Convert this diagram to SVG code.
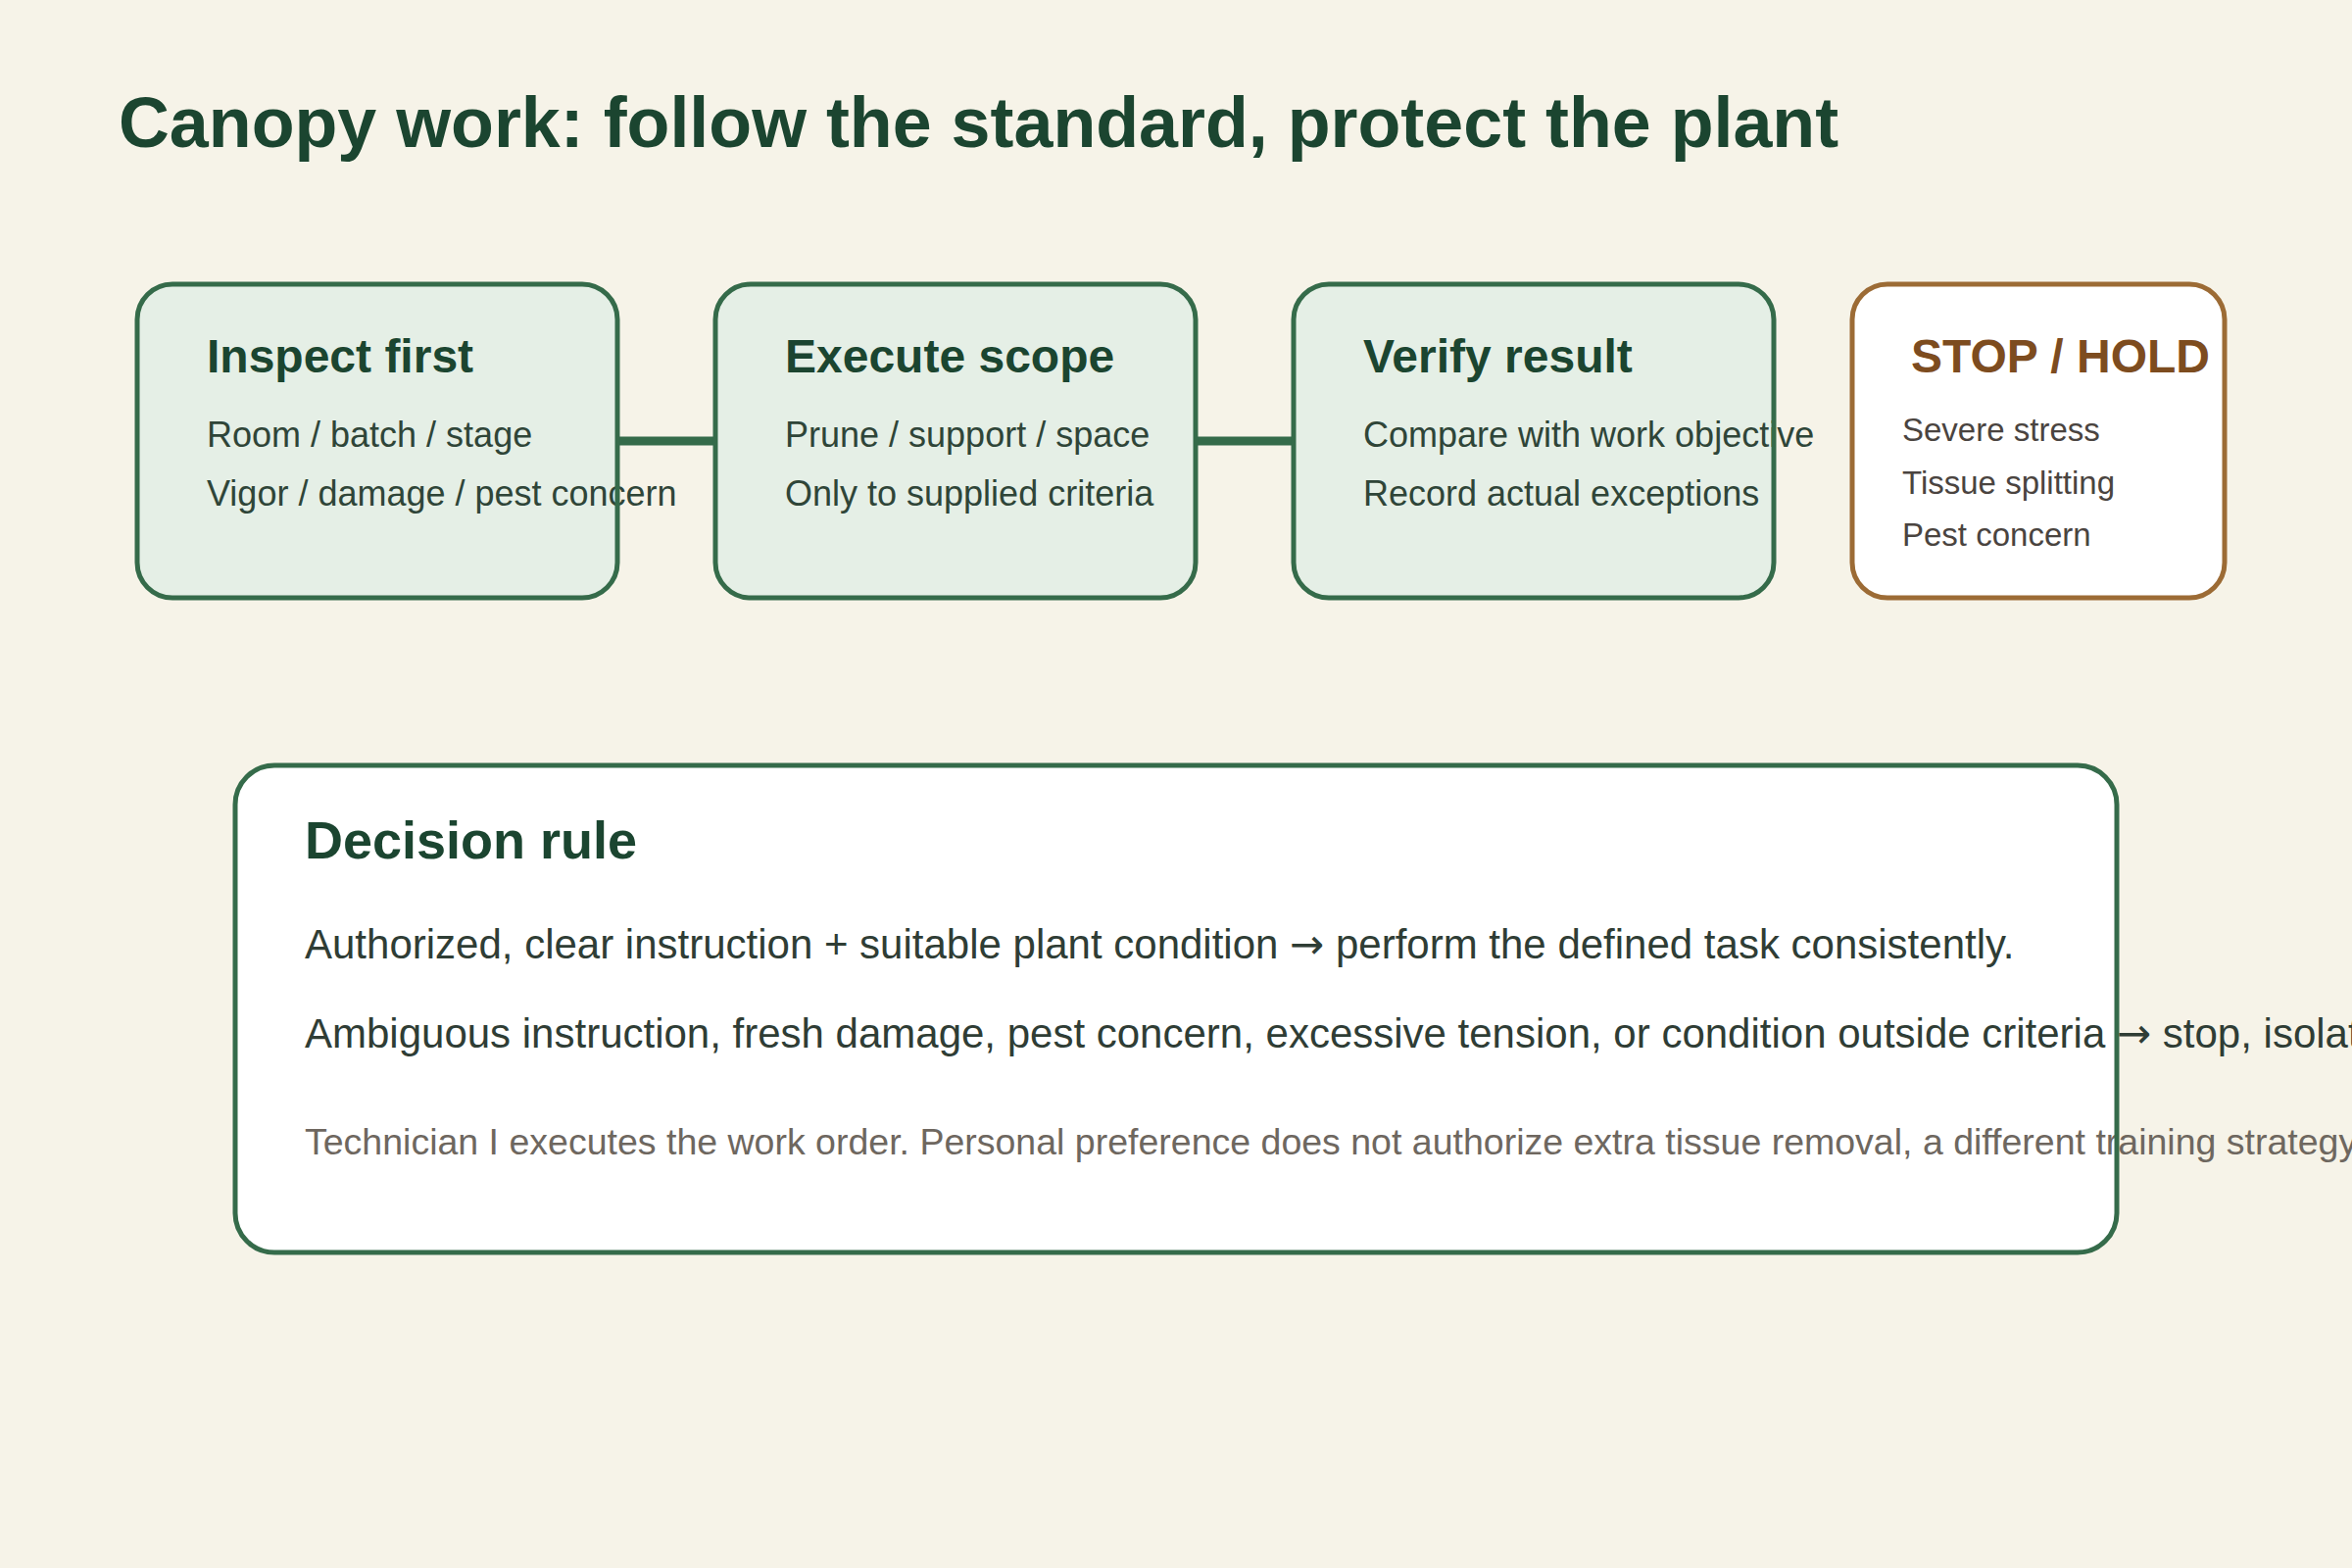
<svg xmlns="http://www.w3.org/2000/svg" width="2400" height="1600" viewBox="0 0 2400 1600">
<style>
text{font-family:"Liberation Sans",Arial,sans-serif}
.title{font-size:71.8px;font-weight:bold;fill:#1b4530}
.stepf{fill:#e5efe6}
.stepb{fill:none;stroke:#356b4a;stroke-width:5}
.stopf{fill:#ffffff}
.stopb{fill:none;stroke:#9c6b35;stroke-width:5}
.h{font-size:48px;font-weight:bold;fill:#1b4530}
.hs{font-size:48px;font-weight:bold;fill:#7d4c1f}
.b{font-size:36px;fill:#2f4538}
.bs{font-size:33px;fill:#4a4440}
.conn{stroke:#356b4a;stroke-width:9;fill:none}
.r{font-size:42px;fill:#2f3d35}
.n{font-size:37.5px;fill:#6e675f}
.arr{font-family:"DejaVu Sans",sans-serif}
</style>
<rect width="2400" height="1600" fill="#f6f3e8"/>
<text class="title" x="121" y="150">Canopy work: follow the standard, protect the plant</text>
<g id="connectors">
<line class="conn" x1="630" y1="450" x2="730" y2="450"/>
<line class="conn" x1="1220" y1="450" x2="1320" y2="450"/>
</g>
<g id="inspect">
<rect class="stepf" x="140" y="290" width="490" height="320" rx="36"/>
<text class="h" x="211" y="380">Inspect first</text>
<text class="b" x="211" y="456">Room / batch / stage</text>
<text class="b" x="211" y="516">Vigor / damage / pest concern</text>
<rect class="stepb" x="140" y="290" width="490" height="320" rx="36"/>
</g>
<g id="execute">
<rect class="stepf" x="730" y="290" width="490" height="320" rx="36"/>
<text class="h" x="801" y="380">Execute scope</text>
<text class="b" x="801" y="456">Prune / support / space</text>
<text class="b" x="801" y="516">Only to supplied criteria</text>
<rect class="stepb" x="730" y="290" width="490" height="320" rx="36"/>
</g>
<g id="verify">
<rect class="stepf" x="1320" y="290" width="490" height="320" rx="36"/>
<text class="h" x="1391" y="380">Verify result</text>
<text class="b" x="1391" y="456">Compare with work objective</text>
<text class="b" x="1391" y="516">Record actual exceptions</text>
<rect class="stepb" x="1320" y="290" width="490" height="320" rx="36"/>
</g>
<g id="stop">
<rect class="stopf" x="1890" y="290" width="380" height="320" rx="36"/>
<text class="hs" x="1950" y="380">STOP / HOLD</text>
<text class="bs" x="1941" y="450">Severe stress</text>
<text class="bs" x="1941" y="504">Tissue splitting</text>
<text class="bs" x="1941" y="557">Pest concern</text>
<rect class="stopb" x="1890" y="290" width="380" height="320" rx="36"/>
</g>
<g id="decision">
<rect class="stopf" x="240" y="781" width="1920" height="497" rx="40"/>
<text class="h" x="311" y="876" style="font-size:54px">Decision rule</text>
<text class="r" x="311" y="978">Authorized, clear instruction + suitable plant condition <tspan class="arr">→</tspan> perform the defined task consistently.</text>
<text class="r" x="311" y="1069">Ambiguous instruction, fresh damage, pest concern, excessive tension, or condition outside criteria <tspan class="arr">→</tspan> stop, isolate, and escalate.</text>
<text class="n" x="311" y="1178">Technician I executes the work order. Personal preference does not authorize extra tissue removal, a different training strategy.</text>
<rect class="stepb" x="240" y="781" width="1920" height="497" rx="40"/>
</g>
</svg>
